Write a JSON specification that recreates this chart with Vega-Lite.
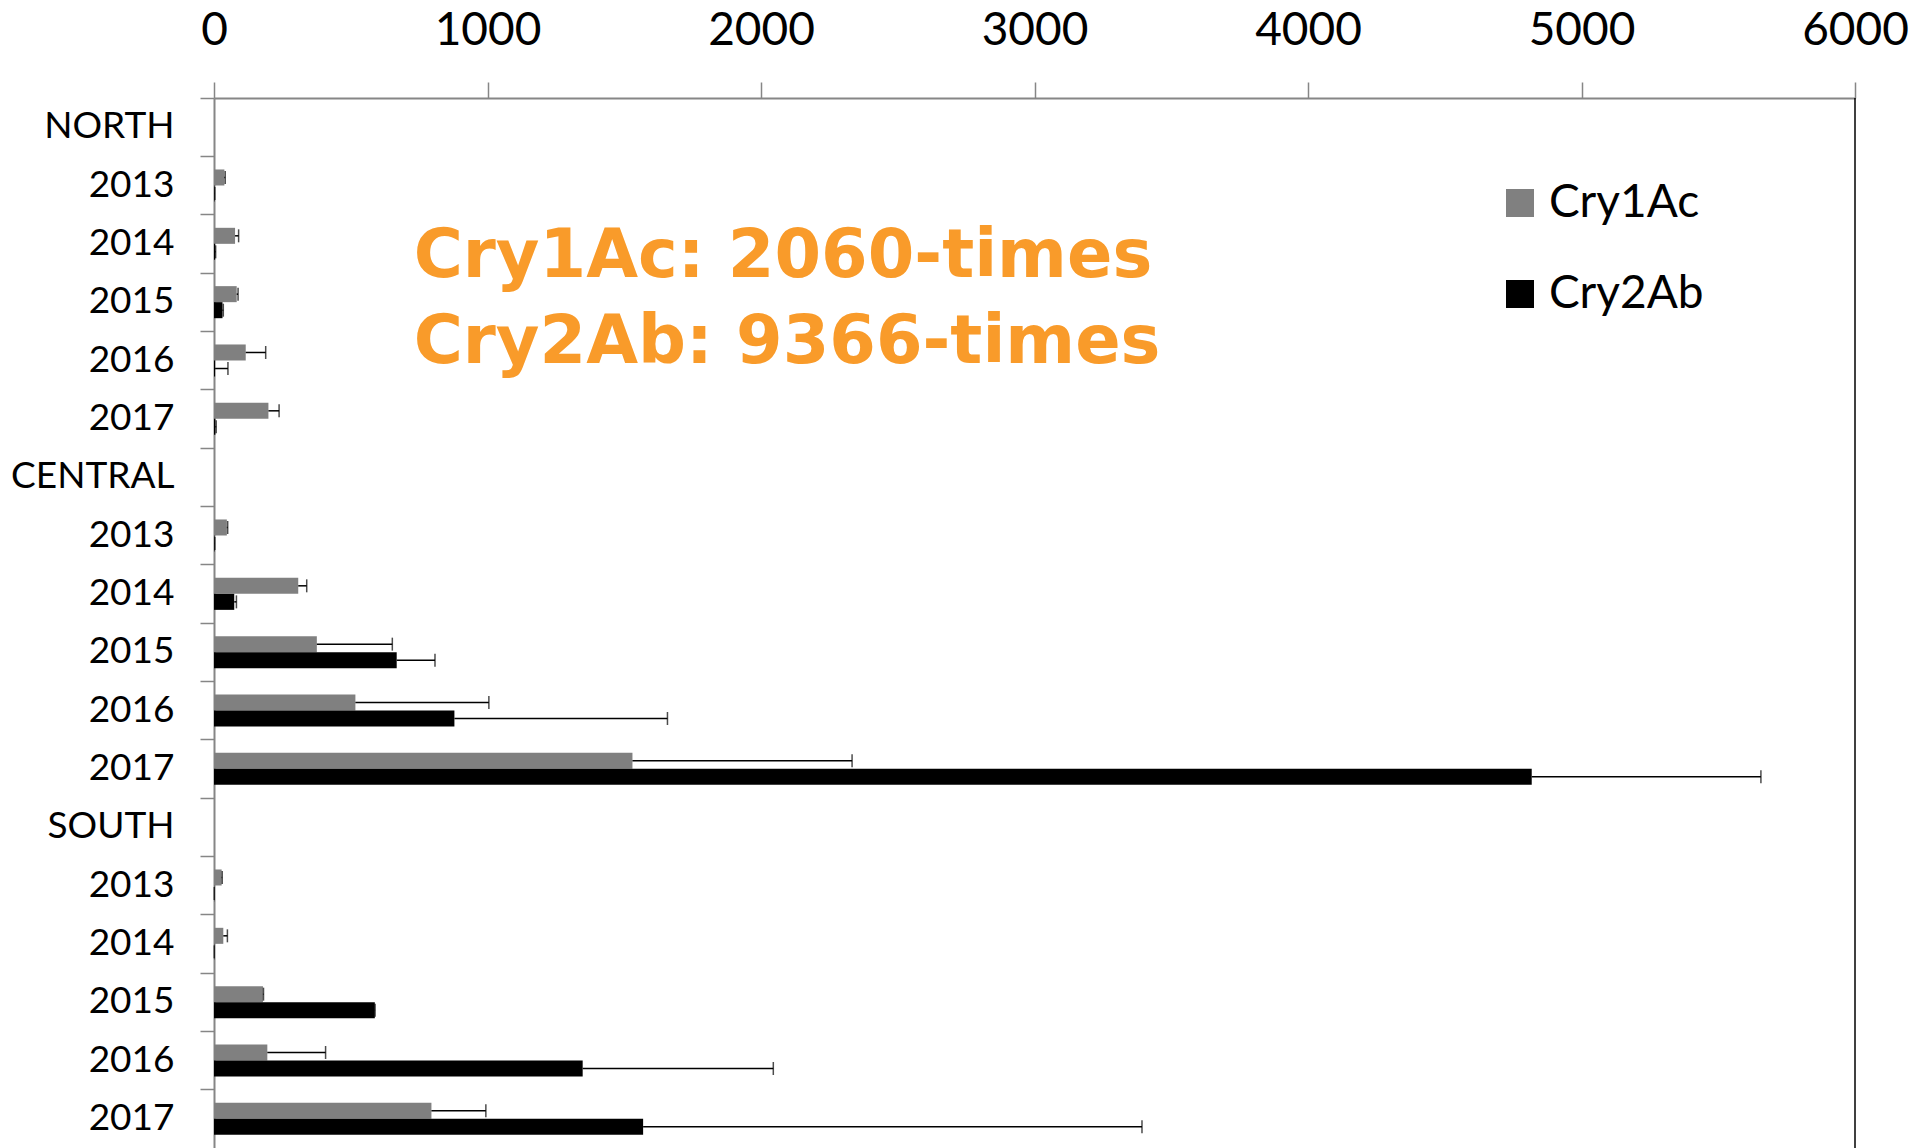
{
  "$schema": "https://vega.github.io/schema/vega-lite/v6.json",
  "autosize": "none",
  "padding": {"left": 214, "top": 98, "right": 66, "bottom": 0},
  "width": 1641,
  "height": 1050,
  "background": "white",
  "config": {"view": {"stroke": null}},
  "data": {"values": [
    {"row": "2013 N", "protein": "Cry1Ac", "value": 38, "hi": 41},
    {"row": "2013 N", "protein": "Cry2Ab", "value": 2, "hi": 3},
    {"row": "2014 N", "protein": "Cry1Ac", "value": 77, "hi": 90},
    {"row": "2014 N", "protein": "Cry2Ab", "value": 4, "hi": 6},
    {"row": "2015 N", "protein": "Cry1Ac", "value": 83, "hi": 88},
    {"row": "2015 N", "protein": "Cry2Ab", "value": 31, "hi": 34},
    {"row": "2016 N", "protein": "Cry1Ac", "value": 116, "hi": 189},
    {"row": "2016 N", "protein": "Cry2Ab", "value": 4, "hi": 51},
    {"row": "2017 N", "protein": "Cry1Ac", "value": 199, "hi": 238},
    {"row": "2017 N", "protein": "Cry2Ab", "value": 5, "hi": 8},
    {"row": "2013 C", "protein": "Cry1Ac", "value": 47, "hi": 50},
    {"row": "2013 C", "protein": "Cry2Ab", "value": 2, "hi": 3},
    {"row": "2014 C", "protein": "Cry1Ac", "value": 308, "hi": 339},
    {"row": "2014 C", "protein": "Cry2Ab", "value": 74, "hi": 82},
    {"row": "2015 C", "protein": "Cry1Ac", "value": 376, "hi": 652},
    {"row": "2015 C", "protein": "Cry2Ab", "value": 668, "hi": 808},
    {"row": "2016 C", "protein": "Cry1Ac", "value": 517, "hi": 1005},
    {"row": "2016 C", "protein": "Cry2Ab", "value": 879, "hi": 1658},
    {"row": "2017 C", "protein": "Cry1Ac", "value": 1530, "hi": 2333},
    {"row": "2017 C", "protein": "Cry2Ab", "value": 4818, "hi": 5656},
    {"row": "2013 S", "protein": "Cry1Ac", "value": 28, "hi": 30},
    {"row": "2013 S", "protein": "Cry2Ab", "value": 1, "hi": 1},
    {"row": "2014 S", "protein": "Cry1Ac", "value": 34, "hi": 49},
    {"row": "2014 S", "protein": "Cry2Ab", "value": 1, "hi": 1},
    {"row": "2015 S", "protein": "Cry1Ac", "value": 179, "hi": 181},
    {"row": "2015 S", "protein": "Cry2Ab", "value": 588, "hi": 589},
    {"row": "2016 S", "protein": "Cry1Ac", "value": 195, "hi": 408},
    {"row": "2016 S", "protein": "Cry2Ab", "value": 1348, "hi": 2045},
    {"row": "2017 S", "protein": "Cry1Ac", "value": 795, "hi": 994},
    {"row": "2017 S", "protein": "Cry2Ab", "value": 1569, "hi": 3393}
  ]},
  "encoding": {
    "y": {
      "field": "row",
      "type": "nominal",
      "scale": {
        "domain": ["NORTH", "2013 N", "2014 N", "2015 N", "2016 N", "2017 N", "CENTRAL", "2013 C", "2014 C", "2015 C", "2016 C", "2017 C", "SOUTH", "2013 S", "2014 S", "2015 S", "2016 S", "2017 S"],
        "paddingInner": 0,
        "paddingOuter": 0
      },
      "axis": {
        "title": null,
        "orient": "left",
        "bandPosition": 0,
        "labelExpr": "test(/^[0-9]/, datum.label) ? substring(datum.label, 0, 4) : datum.label",
        "labelFont": "Lato",
        "labelFontSize": 37,
        "labelColor": "#000000",
        "labelPadding": 26,
        "tickSize": 14,
        "tickColor": "#868686",
        "tickWidth": 1.5,
        "domainColor": "#868686",
        "domainWidth": 2,
        "grid": false
      }
    }
  },
  "layer": [
    {
      "mark": {"type": "bar", "stroke": null},
      "encoding": {
        "x": {
          "field": "value",
          "type": "quantitative",
          "scale": {"domain": [0, 6000], "nice": false},
          "axis": {
            "title": null,
            "orient": "top",
            "format": "d",
            "values": [0, 1000, 2000, 3000, 4000, 5000, 6000],
            "labelFont": "Lato",
            "labelFontSize": 46,
            "labelColor": "#000000",
            "labelPadding": 28,
            "labelFlush": false,
            "labelOverlap": false,
            "tickSize": 16,
            "tickColor": "#868686",
            "tickWidth": 1.5,
            "domainColor": "#868686",
            "domainWidth": 2,
            "grid": false
          }
        },
        "yOffset": {
          "field": "protein",
          "type": "nominal",
          "scale": {"domain": ["Cry1Ac", "Cry2Ab"], "paddingInner": 0, "paddingOuter": 0.82}
        },
        "color": {
          "field": "protein",
          "type": "nominal",
          "scale": {"domain": ["Cry1Ac", "Cry2Ab"], "range": ["#808080", "#000000"]},
          "legend": {
            "title": null,
            "orient": "none",
            "legendX": 1283,
            "legendY": 82,
            "symbolType": "square",
            "symbolSize": 784,
            "symbolStrokeWidth": 0,
            "labelFont": "Lato",
            "labelFontSize": 46,
            "labelColor": "#000000",
            "labelOffset": 6,
            "rowPadding": 45,
            "padding": 0
          }
        }
      }
    },
    {
      "mark": {"type": "rule", "color": "#000000", "strokeWidth": 1.5},
      "encoding": {
        "x": {"field": "value", "type": "quantitative"},
        "x2": {"field": "hi"},
        "yOffset": {"field": "protein", "type": "nominal"}
      }
    },
    {
      "mark": {"type": "tick", "color": "#000000", "thickness": 1.5, "size": 13},
      "encoding": {
        "x": {"field": "hi", "type": "quantitative"},
        "yOffset": {"field": "protein", "type": "nominal"}
      }
    },
    {
      "data": {"values": [{"edge": 6000}]},
      "mark": {"type": "rule", "color": "#000000", "strokeWidth": 1.5},
      "encoding": {
        "x": {"field": "edge", "type": "quantitative"},
        "y": null
      }
    },
    {
      "data": {"values": [{"row": "2015 N", "pos": 730}]},
      "mark": {
        "type": "text",
        "text": ["Cry1Ac: 2060-times", "Cry2Ab: 9366-times"],
        "font": "DejaVu Sans",
        "fontWeight": "bold",
        "fontSize": 67,
        "lineHeight": 86,
        "dy": -45,
        "color": "#F99B2A",
        "align": "left",
        "baseline": "middle"
      },
      "encoding": {
        "x": {"field": "pos", "type": "quantitative"}
      }
    }
  ]
}
